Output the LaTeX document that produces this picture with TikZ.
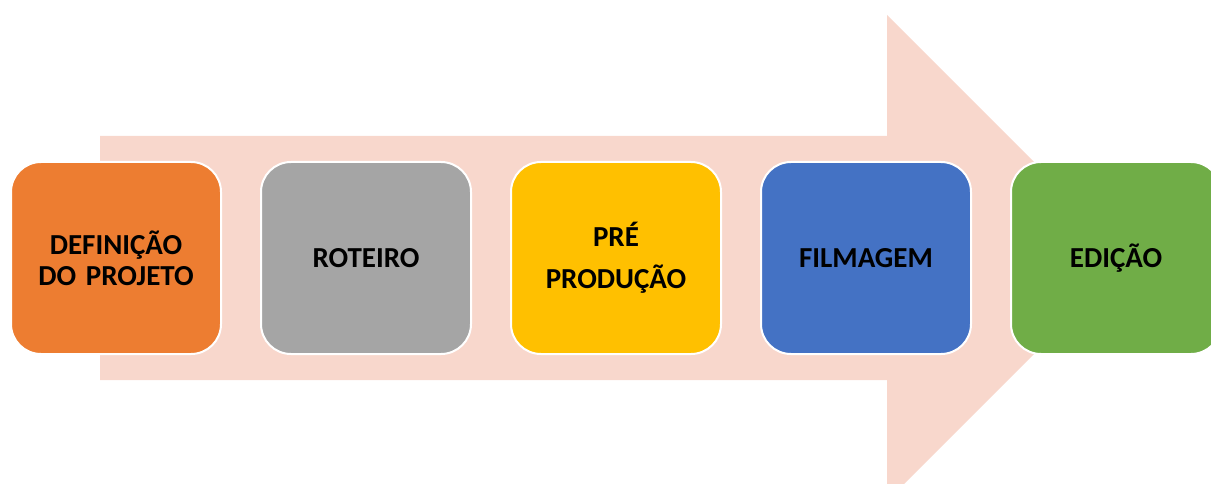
\documentclass[tikz,border=0pt]{standalone}
\usepackage{fontspec}
\setmainfont{Carlito}
\usetikzlibrary{positioning}
\definecolor{arrowpink}{HTML}{F8D7CC}
\definecolor{defcol}{HTML}{ED7D31}
\definecolor{rotcol}{HTML}{A5A5A5}
\definecolor{precol}{HTML}{FFC000}
\definecolor{filcol}{HTML}{4472C4}
\definecolor{edicol}{HTML}{70AD47}
\tikzset{stage/.style={rectangle, draw=white, line width=2pt, rounded corners=30pt,
    minimum width=210pt, minimum height=192pt, text width=188pt, align=center,
    font=\fontsize{29}{31}\selectfont\bfseries}}
\begin{document}
\begin{tikzpicture}[x=1pt, y=1pt, node distance = 38pt]
  \useasboundingbox (0,0) rectangle (1211,483);
  \clip (0,0) rectangle (1211,483);
  % big arrow behind the stages
  \fill [arrowpink] (100,347) -- (887,347) -- (887,468) -- (1130,225)
    -- (887,-18) -- (887,103) -- (100,103) -- cycle;
  \node [stage, fill=defcol] at (116,225) (def) {DEFINIÇÃO\\DO PROJETO};
  \node [stage, fill=rotcol, right=of def] (rot) {ROTEIRO};
  \node [stage, fill=precol, right=of rot] (pre) {PRÉ\\[11pt]PRODUÇÃO};
  \node [stage, fill=filcol, right=of pre] (fil) {FILMAGEM};
  \node [stage, fill=edicol, right=of fil] (edi) {EDIÇÃO};
\end{tikzpicture}
\end{document}
